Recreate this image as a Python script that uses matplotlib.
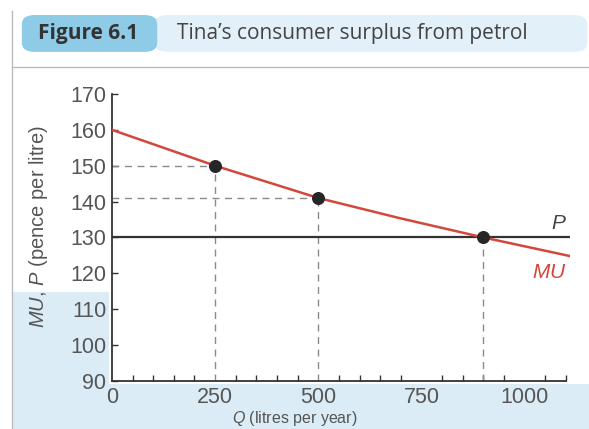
import matplotlib.pyplot as plt
import numpy as np
from matplotlib.patches import FancyBboxPatch, Rectangle

plt.rcParams['font.family'] = ['Liberation Sans', 'DejaVu Sans']
plt.rcParams['mathtext.fontset'] = 'custom'
plt.rcParams['mathtext.it'] = 'Liberation Sans:italic'
plt.rcParams['mathtext.rm'] = 'Liberation Sans'

# MU curve (litres, pence per litre)
mu_q = [0, 250, 500, 700, 900, 1110]
mu_v = [160, 150, 141, 135.3, 130, 124.8]
# highlighted points
pt_q = [250, 500, 900]
pt_v = [150, 141, 130]
price = 130
x_ticks = [0, 250, 500, 750, 1000]
y_ticks = [90, 100, 110, 120, 130, 140, 150, 160, 170]

TXT = '#555555'
AX = '#333333'
RED = '#d4473c'

fig = plt.figure(figsize=(5.89, 4.29), dpi=100)
fig.patch.set_facecolor('white')

# scanned-page background pieces
fig.patches.append(Rectangle((0.02, 0.0), 0.165, 0.32, transform=fig.transFigure,
                             facecolor='#dbecf6', edgecolor='none', zorder=0))
fig.patches.append(Rectangle((0.02, 0.0), 0.98, 0.105, transform=fig.transFigure,
                             facecolor='#dbecf6', edgecolor='none', zorder=0))
fig.add_artist(plt.Line2D([0.02, 0.02], [0.0, 0.975], transform=fig.transFigure,
                          color='#bbbbbb', lw=1))
fig.add_artist(plt.Line2D([0.02, 1.0], [0.844, 0.844], transform=fig.transFigure,
                          color='#bbbbbb', lw=1))

# header boxes
fig.patches.append(FancyBboxPatch((0.262, 0.879), 0.735, 0.086,
                                  boxstyle='round,pad=0,rounding_size=0.022',
                                  transform=fig.transFigure, facecolor='#e2f1f9',
                                  edgecolor='none', zorder=1))
fig.patches.append(FancyBboxPatch((0.037, 0.879), 0.23, 0.086,
                                  boxstyle='round,pad=0,rounding_size=0.022',
                                  transform=fig.transFigure, facecolor='#8dcbe6',
                                  edgecolor='none', zorder=2))
fig.text(0.149, 0.921, 'Figure 6.1', ha='center', va='center', fontsize=15,
         fontweight='bold', color='#333333', family='Open Sans', zorder=3)
fig.text(0.300, 0.921, 'Tina\u2019s consumer surplus from petrol', ha='left', va='center',
         fontsize=15, color='#444444', family='Open Sans', zorder=3)

ax = fig.add_axes([0.19, 0.112, 0.778, 0.669])
ax.set_zorder(5)
ax.set_facecolor('none')
ax.set_xlim(0, 1110)
ax.set_ylim(90, 170)

for s in ['top', 'right']:
    ax.spines[s].set_visible(False)
for s in ['left', 'bottom']:
    ax.spines[s].set_color(AX)
    ax.spines[s].set_linewidth(1.3)
ax.spines['bottom'].set_bounds(0, 1100)

ax.set_xticks(x_ticks)
ax.set_xticks(np.arange(50, 1101, 50), minor=True)
ax.set_yticks(y_ticks)
ax.tick_params(axis='x', which='major', length=0, labelsize=15.5, labelcolor=TXT, pad=4)
ax.tick_params(axis='x', which='minor', direction='in', length=4, width=1, color=AX)
ax.tick_params(axis='y', direction='in', length=4.5, width=1, color=AX,
               labelsize=15.5, labelcolor=TXT, pad=4)

# dashed guides
for q, v in zip(pt_q[:2], pt_v[:2]):
    ax.plot([0, q], [v, v], ls=(0, (5, 4)), color='#8a8a8a', lw=1, zorder=2)
for q, v in zip(pt_q, pt_v):
    ax.plot([q, q], [90, v], ls=(0, (5, 4)), color='#8a8a8a', lw=1, zorder=2)

ax.axhline(price, color=AX, lw=1.6, zorder=3)
ax.plot(mu_q, mu_v, color=RED, lw=1.8, zorder=4)
ax.scatter(pt_q, pt_v, s=70, color='#262626', zorder=5)

ax.text(1102, 131.2, '$P$', ha='right', va='bottom', fontsize=15, color='#444444')
ax.text(1060, 120.2, '$MU$', ha='center', va='center', fontsize=15, color=RED)

fig.text(0.065, 0.471, r'$MU$, $P$ (pence per litre)', rotation=90, ha='center',
         va='center', fontsize=14.5, color=TXT)
fig.text(0.5, 0.002, r'$Q$ (litres per year)', ha='center', va='bottom',
         fontsize=11.5, color=TXT)

fig.savefig('out.png', dpi=100)
